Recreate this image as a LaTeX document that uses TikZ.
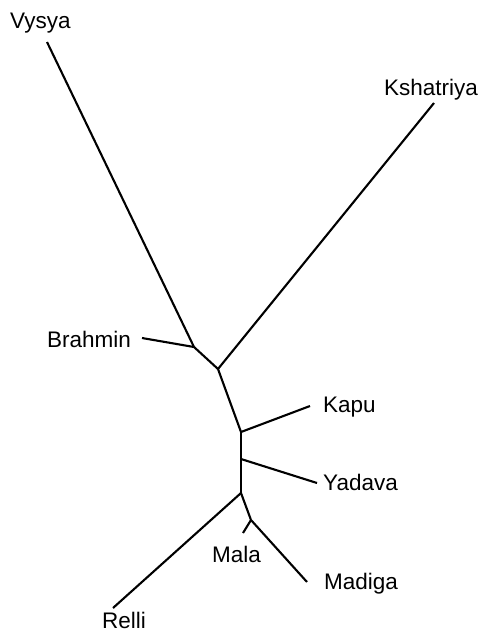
\documentclass[tikz,border=0pt]{standalone}
\usepackage{fontspec}
\setmainfont{Liberation Sans}
\begin{document}
\begin{tikzpicture}[x=1pt,y=-1pt,
  branch/.style={line width=2.1pt,black},
  lab/.style={anchor=base west,inner sep=0pt,font=\fontsize{22.5}{24}\selectfont}]
\useasboundingbox (0,0) rectangle (482,633);
% junctions
\coordinate (A) at (194,347);
\coordinate (B) at (218,369);
\coordinate (C) at (241,432);
\coordinate (D) at (241,459);
\coordinate (E) at (241,493);
\coordinate (F) at (251,520);
% tips
\coordinate (tV) at (47,42);
\coordinate (tB) at (142,338);
\coordinate (tK) at (434,103);
\coordinate (tKa) at (310,406);
\coordinate (tY) at (317,483);
\coordinate (tR) at (113,608);
\coordinate (tM) at (243,533);
\coordinate (tMd) at (307,582);
% edges
\draw[branch] (tV) -- (A);
\draw[branch] (tB) -- (A);
\draw[branch] (A) -- (B);
\draw[branch] (B) -- (tK);
\draw[branch] (B) -- (C);
\draw[branch] (C) -- (tKa);
\draw[branch] (C) -- (D);
\draw[branch] (D) -- (tY);
\draw[branch] (D) -- (E);
\draw[branch] (E) -- (tR);
\draw[branch] (E) -- (F);
\draw[branch] (F) -- (tM);
\draw[branch] (F) -- (tMd);
% labels
\node[lab] (lV) at (10,28) {Vysya};
\node[lab] (lK) at (384,95) {Kshatriya};
\node[lab] (lB) at (47,347) {Brahmin};
\node[lab] (lKa) at (323,412) {Kapu};
\node[lab] (lY) at (323,490) {Yadava};
\node[lab] (lM) at (212,562) {Mala};
\node[lab] (lMd) at (324,589) {Madiga};
\node[lab] (lR) at (102,628) {Relli};
\end{tikzpicture}
\end{document}
